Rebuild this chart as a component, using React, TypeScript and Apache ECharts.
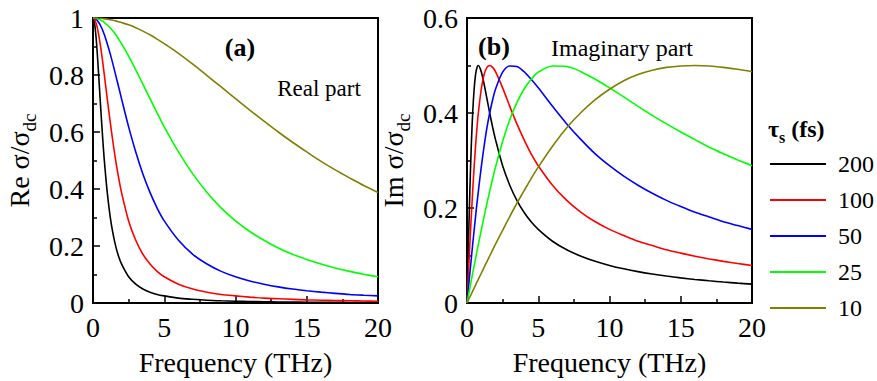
import { useEffect, useRef } from 'react';
import * as echarts from 'echarts';

// Frequency grid (THz)
const freq = [0, 0.1, 0.2, 0.3, 0.4, 0.5, 0.6, 0.7, 0.8, 1.0, 1.2, 1.4, 1.6, 1.8, 2.0, 2.5, 3, 3.5, 4, 4.5, 5, 6, 7, 8, 9, 10, 11, 12, 13, 14, 15, 16, 17, 18, 19, 20];

// Real part, Re σ/σdc
const re200 = [1, 0.984, 0.941, 0.876, 0.798, 0.717, 0.638, 0.564, 0.497, 0.388, 0.305, 0.244, 0.198, 0.163, 0.137, 0.092, 0.066, 0.049, 0.038, 0.030, 0.025, 0.017, 0.013, 0.0098, 0.0078, 0.0063, 0.0052, 0.0044, 0.0037, 0.0032, 0.0028, 0.0025, 0.0022, 0.0020, 0.0018, 0.0016];
const re100 = [1, 0.996, 0.984, 0.966, 0.941, 0.910, 0.876, 0.838, 0.798, 0.717, 0.638, 0.564, 0.497, 0.439, 0.388, 0.288, 0.220, 0.171, 0.137, 0.111, 0.092, 0.066, 0.049, 0.038, 0.030, 0.025, 0.0205, 0.017, 0.0148, 0.0128, 0.0111, 0.0098, 0.0087, 0.0078, 0.0070, 0.0063];
const re50 = [1, 0.999, 0.996, 0.991, 0.984, 0.976, 0.966, 0.954, 0.941, 0.910, 0.876, 0.838, 0.798, 0.758, 0.717, 0.618, 0.530, 0.453, 0.388, 0.333, 0.288, 0.220, 0.171, 0.137, 0.111, 0.092, 0.0773, 0.066, 0.0566, 0.049, 0.0431, 0.038, 0.0339, 0.030, 0.0273, 0.025];
const re25 = [1, 1.0, 0.999, 0.998, 0.996, 0.994, 0.991, 0.988, 0.984, 0.976, 0.966, 0.954, 0.941, 0.926, 0.910, 0.866, 0.818, 0.768, 0.717, 0.667, 0.618, 0.530, 0.453, 0.388, 0.333, 0.288, 0.251, 0.220, 0.193, 0.171, 0.153, 0.137, 0.123, 0.111, 0.101, 0.092];
const re10 = [1, 1.0, 1.0, 1.0, 0.999, 0.999, 0.999, 0.998, 0.997, 0.996, 0.994, 0.992, 0.990, 0.987, 0.984, 0.976, 0.966, 0.954, 0.941, 0.926, 0.910, 0.876, 0.838, 0.798, 0.758, 0.717, 0.677, 0.638, 0.600, 0.564, 0.530, 0.497, 0.467, 0.439, 0.412, 0.388];

// Imaginary part, Im σ/σdc
const im200 = [0, 0.124, 0.236, 0.330, 0.401, 0.450, 0.481, 0.496, 0.500, 0.487, 0.461, 0.430, 0.399, 0.370, 0.344, 0.289, 0.248, 0.216, 0.191, 0.171, 0.155, 0.130, 0.112, 0.0985, 0.0877, 0.0791, 0.0720, 0.0660, 0.0610, 0.0567, 0.0529, 0.0496, 0.0467, 0.0441, 0.0418, 0.0397];
const im100 = [0, 0.063, 0.124, 0.182, 0.236, 0.286, 0.330, 0.369, 0.401, 0.450, 0.481, 0.496, 0.500, 0.496, 0.487, 0.453, 0.414, 0.377, 0.344, 0.314, 0.289, 0.248, 0.216, 0.191, 0.171, 0.155, 0.142, 0.130, 0.121, 0.112, 0.105, 0.0985, 0.0928, 0.0877, 0.0832, 0.0791];
const im50 = [0, 0.031, 0.063, 0.093, 0.124, 0.153, 0.182, 0.210, 0.236, 0.286, 0.330, 0.369, 0.401, 0.428, 0.450, 0.486, 0.499, 0.498, 0.487, 0.471, 0.453, 0.414, 0.377, 0.344, 0.314, 0.289, 0.267, 0.248, 0.231, 0.216, 0.203, 0.191, 0.181, 0.171, 0.163, 0.155];
const im25 = [0, 0.0157, 0.031, 0.047, 0.063, 0.078, 0.093, 0.109, 0.124, 0.153, 0.182, 0.210, 0.236, 0.262, 0.286, 0.340, 0.386, 0.422, 0.450, 0.471, 0.486, 0.499, 0.498, 0.487, 0.471, 0.453, 0.434, 0.414, 0.395, 0.377, 0.360, 0.344, 0.328, 0.314, 0.301, 0.289];
const im10 = [0, 0.0063, 0.0126, 0.0188, 0.0251, 0.0314, 0.0376, 0.0439, 0.0501, 0.0626, 0.0750, 0.0873, 0.0995, 0.1117, 0.124, 0.153, 0.182, 0.210, 0.236, 0.262, 0.286, 0.330, 0.369, 0.401, 0.428, 0.450, 0.468, 0.481, 0.490, 0.496, 0.499, 0.500, 0.499, 0.496, 0.492, 0.487];

const tauLabels = ['200', '100', '50', '25', '10'];
const colors = ['#000000', '#ff0000', '#0000ff', '#00ff00', '#808000'];
const reSeries = [re200, re100, re50, re25, re10];
const imSeries = [im200, im100, im50, im25, im10];

const FONT = "'Liberation Serif', 'Times New Roman', serif";

function makeX(gridIndex: number) {
  return {
    type: 'value',
    gridIndex,
    min: 0,
    max: 20,
    interval: 5,
    axisLine: { show: true, lineStyle: { color: '#000', width: 2 } },
    axisTick: { show: true, inside: true, length: 7, lineStyle: { color: '#000', width: 1.5 } },
    minorTick: { show: true, splitNumber: 2, length: 4, lineStyle: { color: '#000', width: 1.5 } },
    splitLine: { show: false },
    axisLabel: { color: '#000', fontSize: 28, fontFamily: FONT, margin: 10 },
    name: 'Frequency (THz)',
    nameLocation: 'middle',
    nameGap: 45,
    nameTextStyle: { color: '#000', fontSize: 28, fontFamily: FONT },
  };
}

function makeY(gridIndex: number, max: number, prefix: string) {
  return {
    type: 'value',
    gridIndex,
    min: 0,
    max,
    interval: 0.2,
    axisLine: { show: true, lineStyle: { color: '#000', width: 2 } },
    axisTick: { show: true, inside: true, length: 7, lineStyle: { color: '#000', width: 1.5 } },
    minorTick: { show: true, splitNumber: 2, length: 4, lineStyle: { color: '#000', width: 1.5 } },
    splitLine: { show: false },
    axisLabel: { color: '#000', fontSize: 28, fontFamily: FONT, margin: 9 },
    name: `{m|${prefix} σ/σ}{s|dc}`,
    nameLocation: 'middle',
    nameRotate: 90,
    nameGap: 54,
    nameTextStyle: {
      color: '#000',
      fontFamily: FONT,
      fontSize: 28,
      rich: {
        m: { fontSize: 28, fontFamily: FONT, color: '#000', padding: [0, 0, 6, 0], verticalAlign: 'bottom' },
        s: { fontSize: 19, fontFamily: FONT, color: '#000', verticalAlign: 'bottom' },
      },
    },
  };
}

export default function App() {
  const ref = useRef<HTMLDivElement>(null);
  useEffect(() => {
    const chart = echarts.init(ref.current!, null, { renderer: 'svg' });
    const series: any[] = [];
    tauLabels.forEach((name, k) => {
      series.push({
        type: 'line',
        name,
        xAxisIndex: 0,
        yAxisIndex: 0,
        data: freq.map((f, i) => [f, reSeries[k][i]]),
        symbol: 'none',
        smooth: 0.3,
        lineStyle: { color: colors[k], width: 1.6 },
        itemStyle: { color: colors[k] },
      });
      series.push({
        type: 'line',
        name,
        xAxisIndex: 1,
        yAxisIndex: 1,
        data: freq.map((f, i) => [f, imSeries[k][i]]),
        symbol: 'none',
        smooth: 0.3,
        lineStyle: { color: colors[k], width: 1.6 },
        itemStyle: { color: colors[k] },
      });
    });
    chart.setOption({
      animation: false,
      backgroundColor: '#fff',
      grid: [
        { left: 93, top: 18, width: 285, height: 285, show: true, borderColor: '#000', borderWidth: 2 },
        { left: 467, top: 18, width: 285, height: 285, show: true, borderColor: '#000', borderWidth: 2 },
      ],
      xAxis: [makeX(0), makeX(1)],
      yAxis: [makeY(0, 1, 'Re'), makeY(1, 0.6, 'Im')],
      legend: {
        data: tauLabels,
        orient: 'vertical',
        left: 765,
        top: 147,
        padding: 5,
        icon: 'rect',
        itemWidth: 56,
        itemHeight: 2,
        itemGap: 12,
        textStyle: { color: '#000', fontSize: 24, fontFamily: FONT, lineHeight: 24, padding: [0, 0, 0, 7] },
        selectedMode: false,
      },
      graphic: [
        {
          type: 'text', x: 240, y: 47,
          style: { text: '(a)', fontSize: 26, fontWeight: 'bold', fontFamily: FONT, fill: '#000', align: 'center', verticalAlign: 'middle' },
        },
        {
          type: 'text', x: 319, y: 88,
          style: { text: 'Real part', fontSize: 23, fontFamily: FONT, fill: '#000', align: 'center', verticalAlign: 'middle' },
        },
        {
          type: 'text', x: 494, y: 46,
          style: { text: '(b)', fontSize: 26, fontWeight: 'bold', fontFamily: FONT, fill: '#000', align: 'center', verticalAlign: 'middle' },
        },
        {
          type: 'text', x: 622, y: 48,
          style: { text: 'Imaginary part', fontSize: 24, fontFamily: FONT, fill: '#000', align: 'center', verticalAlign: 'middle' },
        },
        {
          type: 'text', x: 768, y: 131,
          style: {
            text: '{m|τ}{s|s}{m| (fs)}',
            fill: '#000',
            align: 'left',
            verticalAlign: 'middle',
            rich: {
              m: { fontSize: 24, fontWeight: 'bold', fontFamily: FONT, fill: '#000', padding: [0, 0, 5, 0], verticalAlign: 'bottom' },
              s: { fontSize: 16, fontWeight: 'bold', fontFamily: FONT, fill: '#000', verticalAlign: 'bottom' },
            },
          },
        },
      ],
      series,
    });
    return () => chart.dispose();
  }, []);
  return <div ref={ref} style={{ position: 'fixed', left: 0, top: 0, width: 877, height: 381 }} />;
}
